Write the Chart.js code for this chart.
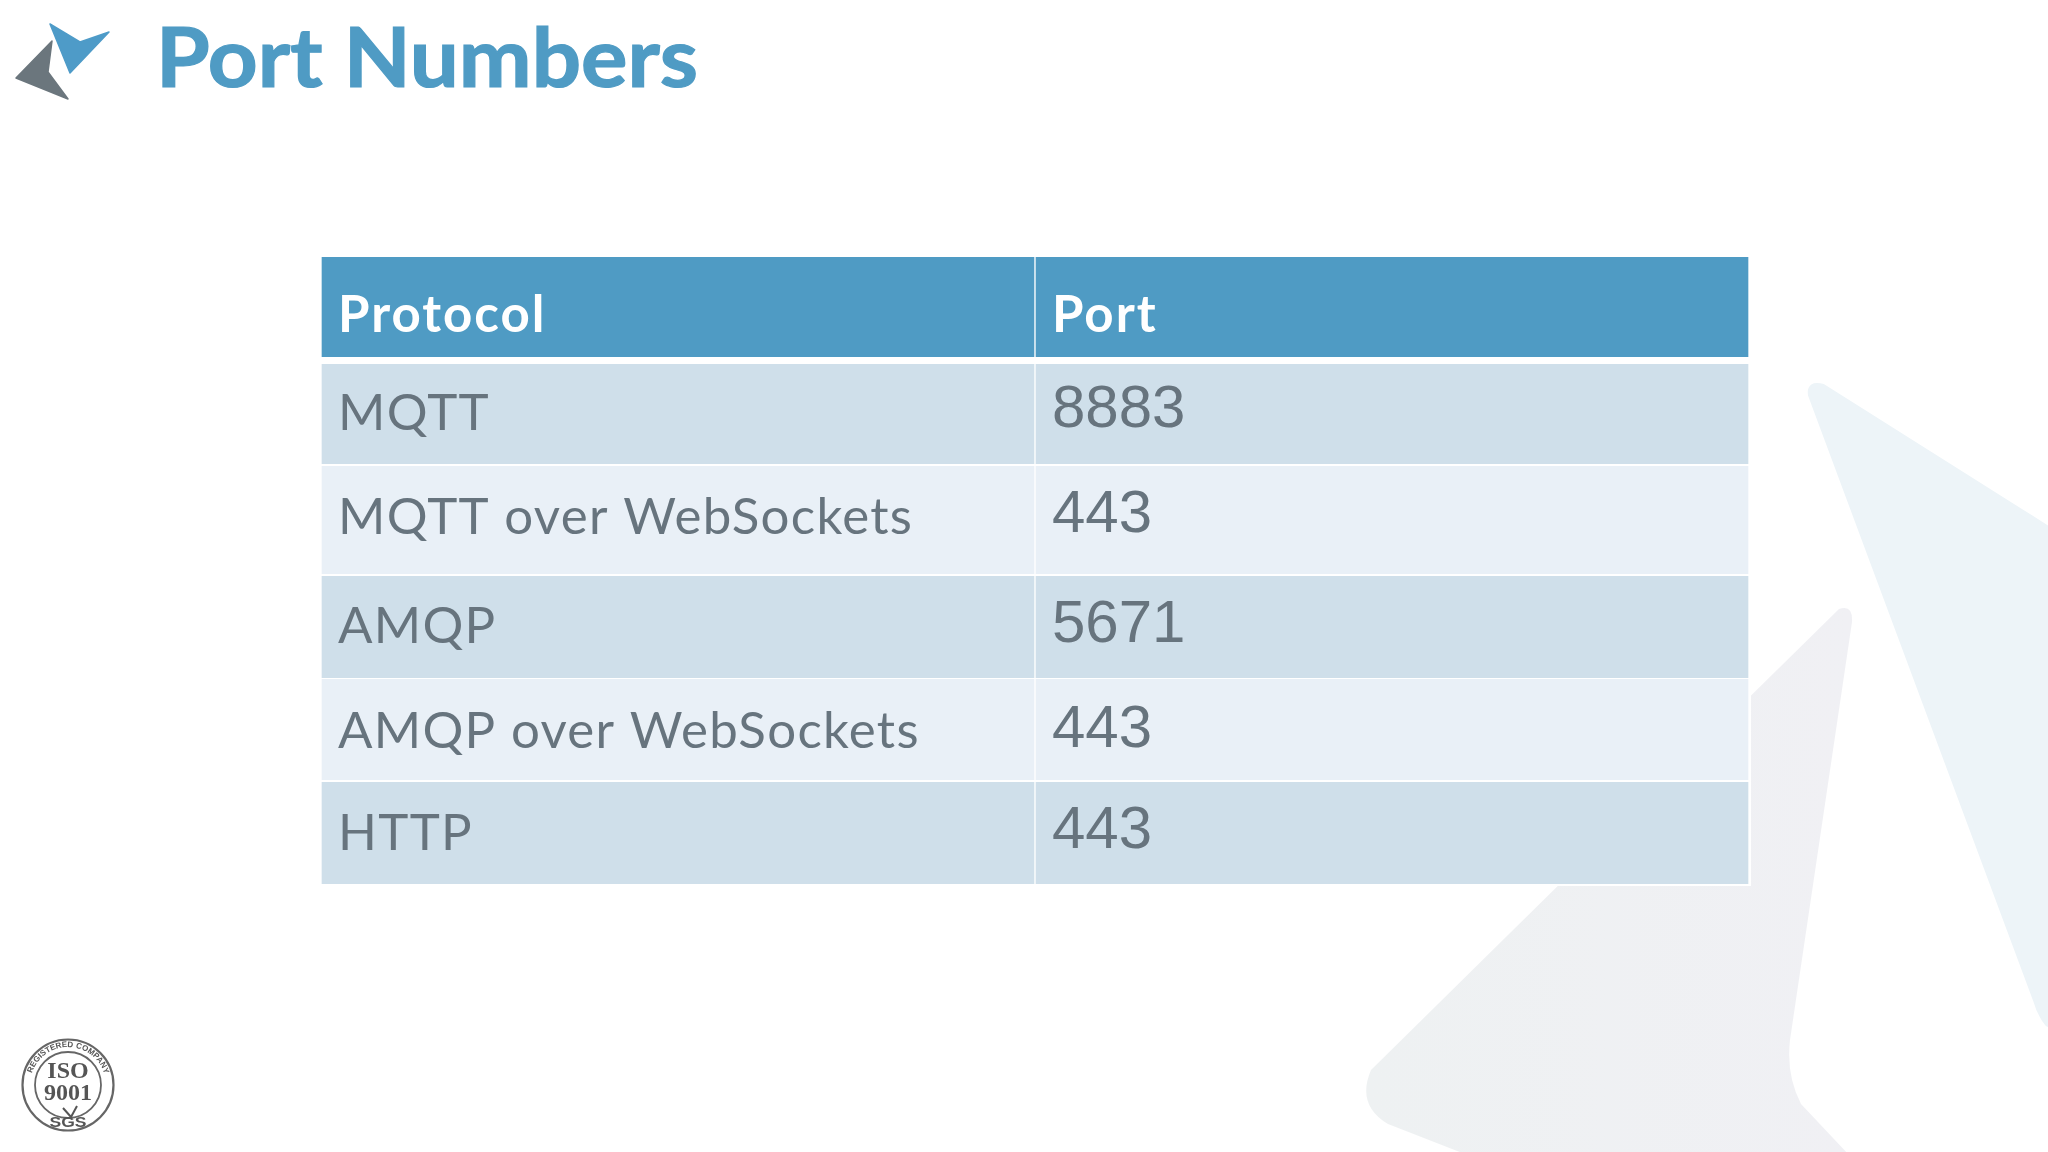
<!DOCTYPE html>
<html>
<head>
<meta charset="utf-8">
<title>Port Numbers</title>
<script src="https://cdn.jsdelivr.net/npm/chart.js@4"></script>
<style>
  html, body { margin: 0; padding: 0; background: #fff; }
  #page { position: relative; width: 2048px; height: 1152px; overflow: hidden; }
  #deco, #chart { position: absolute; left: 0; top: 0; }
</style>
</head>
<body>
<div id="page">
  <svg id="deco" width="2048" height="1152" xmlns="http://www.w3.org/2000/svg">
    <defs>
      <path id="ring" d="M 68 1085 m -38 0 a 38 38 0 1 1 76 0"/>
      <linearGradient id="paleGrey" x1="0" y1="0" x2="1" y2="0">
        <stop offset="0" stop-color="#eef1f2"/>
        <stop offset="1" stop-color="#f0f0f4"/>
      </linearGradient>
    </defs>
    <!-- big pale arrow behind the table -->
    <path d="M1811 395 Q1809 383 1823 387 L2048 529 L2048 1024 Q2040 1014 2036 1000 Z" fill="#edf4f8" stroke="#edf4f8" stroke-width="6" stroke-linejoin="round"/>
    <path d="M1839 609 Q1853 604 1852 622 L1790 1040 Q1786 1075 1801 1104 L1850 1156 L1470 1156 L1388 1124 Q1356 1105 1371 1070 Z" fill="url(#paleGrey)"/>
    <!-- logo -->
    <path d="M50 24 L80 42 L109 32 L70 73 Z" fill="#4e9bc8" stroke="#4e9bc8" stroke-width="1.5" stroke-linejoin="round"/>
    <path d="M52 41 L48 72 L68 99 L16 78 Z" fill="#6b767d" stroke="#6b767d" stroke-width="1.5" stroke-linejoin="round"/>
    <text x="156" y="87" font-family="Lato" font-weight="700" font-size="82" fill="#4f9bc4" stroke="#4f9bc4" stroke-width="1.2" textLength="542" lengthAdjust="spacingAndGlyphs">Port Numbers</text>
    <!-- ISO stamp -->
    <g fill="none" stroke="#666" filter="blur(0.6px)">
      <circle cx="68" cy="1085" r="45.5" stroke-width="2.2"/>
      <circle cx="68" cy="1085" r="33" stroke-width="1.8"/>
    </g>
    <g fill="#555" text-anchor="middle" filter="blur(0.6px)">
      <text font-family="Liberation Sans" font-size="8" font-weight="700" text-anchor="start" textLength="96"><textPath href="#ring" startOffset="12">REGISTERED COMPANY</textPath></text>
      <text x="68" y="1078" font-family="Liberation Serif" font-weight="700" font-size="24">ISO</text>
      <text x="68" y="1100" font-family="Liberation Serif" font-weight="700" font-size="24">9001</text>
      <path d="M63 1108 L71 1117 L77 1106" fill="none" stroke="#555" stroke-width="2"/>
      <text x="68" y="1127" font-family="Liberation Sans" font-weight="700" font-size="14" textLength="37" lengthAdjust="spacingAndGlyphs">SGS</text>
    </g>
  </svg>
  <canvas id="chart" width="2048" height="1152"></canvas>
</div>
<script>
const columns = ['Protocol', 'Port'];
const protocols = ['MQTT', 'MQTT over WebSockets', 'AMQP', 'AMQP over WebSockets', 'HTTP'];
const ports = ['8883', '443', '5671', '443', '443'];

// rows are not quite the same height on the slide
const rowBands = [[0, 100], [107, 207], [209, 317], [319, 421], [422, 523], [525, 627]];
const rowColors = ['#4f9bc4', '#cfdfea', '#e9f0f7', '#cfdfea', '#e9f0f7', '#cfdfea'];
const protocolBaselines = [75, 173, 277, 386, 491, 593];
const portBaselines = [75, 170, 275, 385, 490, 591];

// white behind the rows, so the gaps don't show the arrow
const tableBacking = {
  id: 'tableBacking',
  beforeDatasetsDraw(chart) {
    const { ctx, chartArea } = chart;
    ctx.save();
    ctx.fillStyle = '#ffffff';
    ctx.fillRect(chartArea.left, chartArea.top, chartArea.width + 2, chartArea.height + 2);
    ctx.restore();
  }
};

const cellText = {
  id: 'cellText',
  afterDatasetsDraw(chart) {
    const { ctx, scales } = chart;
    const colWidth = scales.x.width / columns.length;
    const left = i => scales.x.getPixelForValue(i) - colWidth / 2;
    ctx.save();
    ctx.textBaseline = 'alphabetic';
    ctx.textAlign = 'left';

    ctx.fillStyle = '#ffffff';
    ctx.font = '700 51px Lato';
    ctx.letterSpacing = '2px';
    columns.forEach((c, i) => ctx.fillText(c, left(i) + 17, scales.y.getPixelForValue(protocolBaselines[0])));

    ctx.fillStyle = '#67747e';
    protocols.forEach((p, i) => {
      ctx.font = '400 51px Lato';
      ctx.letterSpacing = '1.3px';
      ctx.fillText(p, left(0) + 17, scales.y.getPixelForValue(protocolBaselines[i + 1]));
      ctx.font = '400 60px "Liberation Sans"';
      ctx.letterSpacing = '0px';
      ctx.fillText(ports[i], left(1) + 17, scales.y.getPixelForValue(portBaselines[i + 1]));
    });
    ctx.restore();
  }
};

new Chart(document.getElementById('chart'), {
  type: 'bar',
  data: {
    labels: columns,
    datasets: rowBands.map((band, i) => ({
      label: i === 0 ? 'Header' : protocols[i - 1],
      data: columns.map(() => band),
      backgroundColor: rowColors[i],
      borderColor: '#ffffff',
      borderWidth: { left: 1, right: 1 },
      borderSkipped: false,
      grouped: false,
      barPercentage: 1,
      categoryPercentage: 1
    }))
  },
  options: {
    responsive: false,
    animation: false,
    layout: { padding: { left: 321, right: 299, top: 257, bottom: 268 } },
    plugins: { legend: { display: false }, tooltip: { enabled: false }, title: { display: false } },
    scales: {
      x: { display: false, grid: { display: false } },
      y: { display: false, reverse: true, min: 0, max: 627, grid: { display: false } }
    }
  },
  plugins: [tableBacking, cellText]
});
</script>
</body>
</html>
